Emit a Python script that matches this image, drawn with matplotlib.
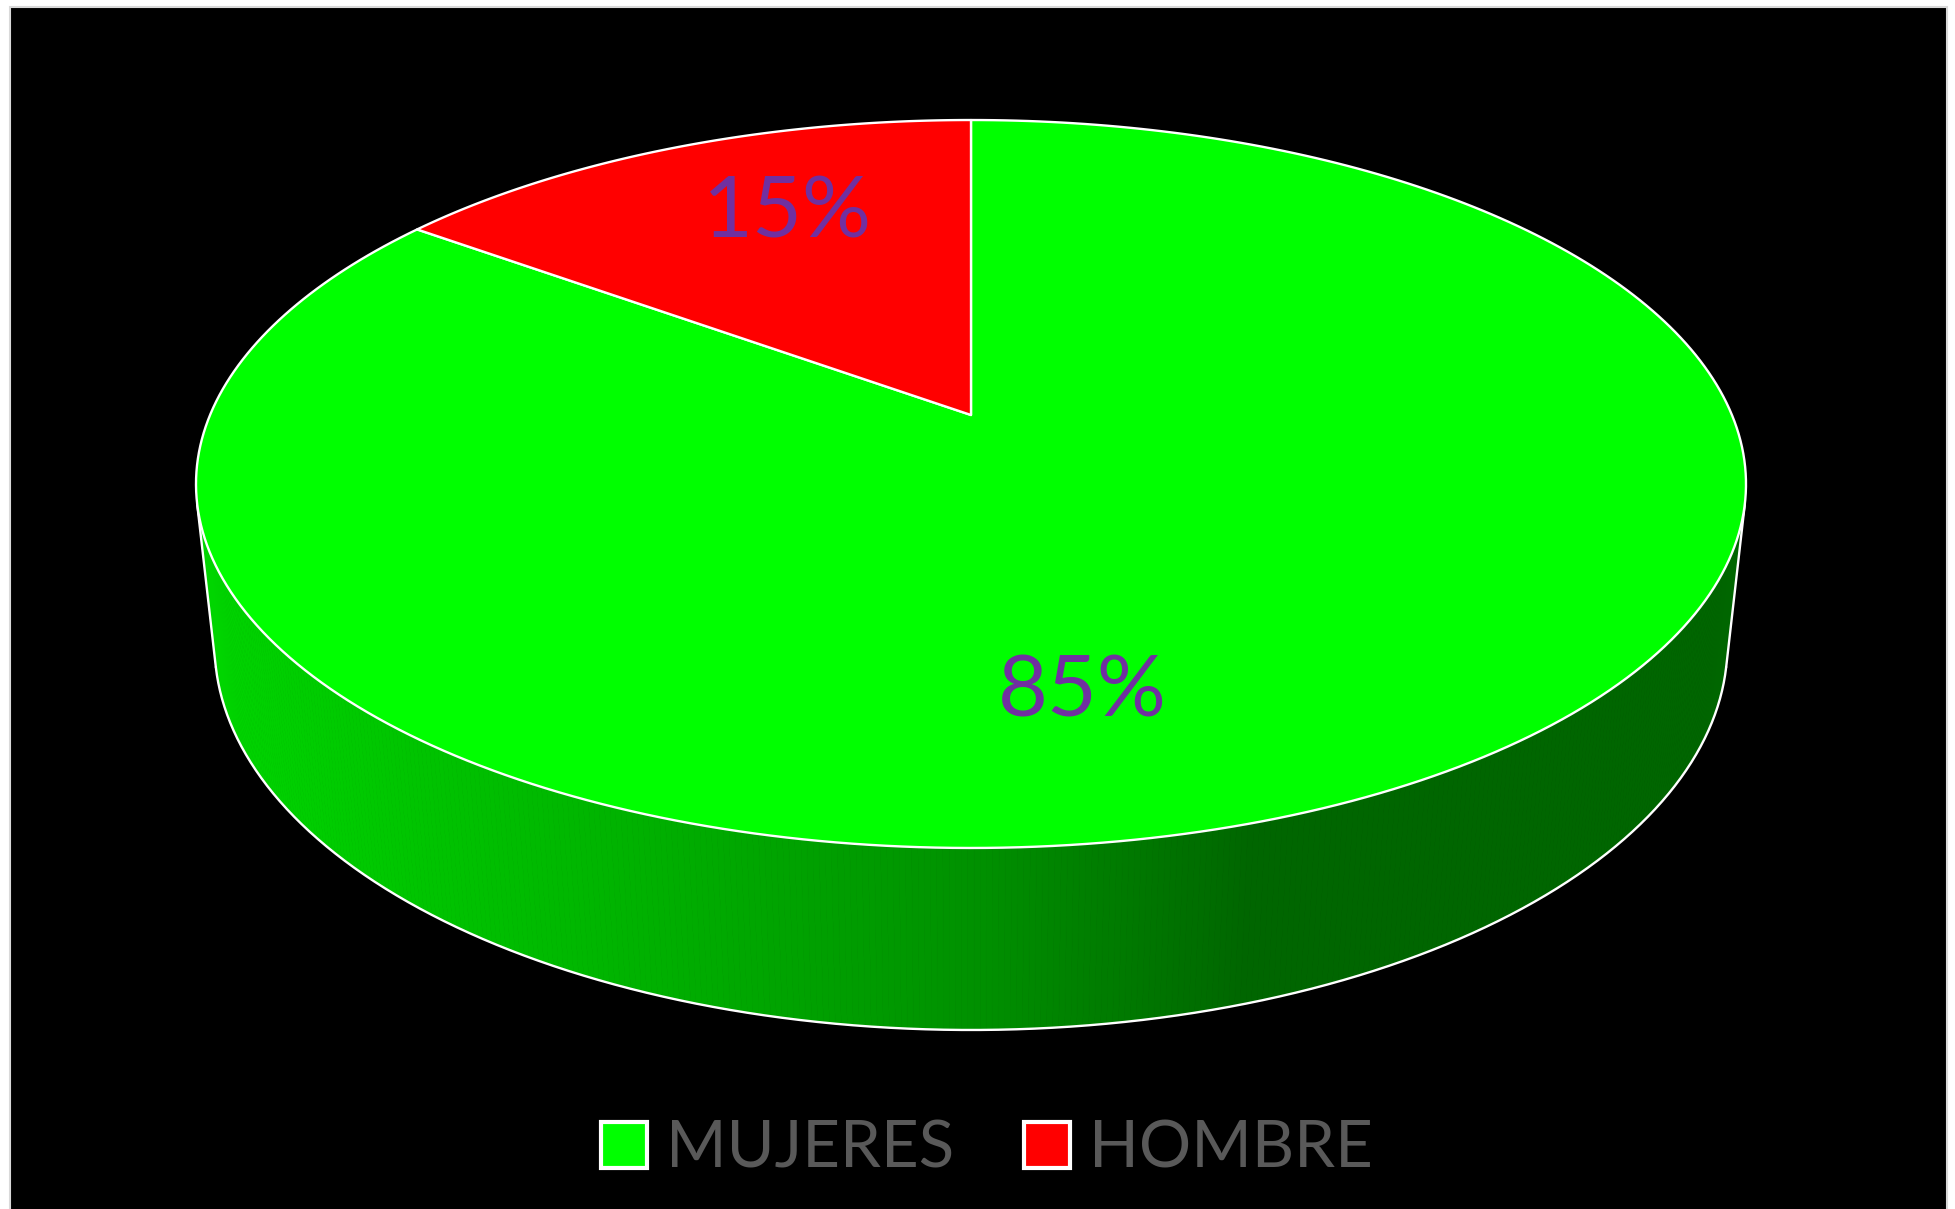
import matplotlib
matplotlib.use("Agg")
import matplotlib.pyplot as plt
import numpy as np
from matplotlib.patches import Polygon, Rectangle, Patch

labels = ["MUJERES", "HOMBRE"]
values = [85, 15]
colors = ["#00FF00", "#FF0000"]
label_shift = [-16.5, -4.3]   # degrees, to match excel's label placement

W, H = 1955, 1209

# 3d view of the pie
elev = np.radians(27.46)
dist = 4.681
scale = 3562
cx, cy = 971, 415
thick = 0.24


def project(X, Y, Z):
    s, c = np.sin(elev), np.cos(elev)
    depth = dist + Y * c - Z * s
    px = cx + scale * X / depth
    py = cy - scale * (Y * s + Z * c) / depth
    return px, py


def shade(color, px):
    f = np.interp(px, [200, 600, 980, 1250], [0.84, 0.71, 0.565, 0.40])
    rgb = np.array(matplotlib.colors.to_rgb(color))
    return tuple(rgb * f)


fig = plt.figure(figsize=(W / 100, H / 100), dpi=100, facecolor="white")
ax = fig.add_axes([0, 0, 1, 1])
ax.set_xlim(0, W)
ax.set_ylim(H, 0)
ax.axis("off")

ax.add_patch(Rectangle((10, 7), 1937, 1210, facecolor="black",
                       edgecolor="#D9D9D9", lw=1.5, zorder=0))

# slice angles, excel starts at 12 o'clock and goes clockwise
frac = np.array(values) / sum(values)
ends = 90 - 360 * np.cumsum(frac)
starts = np.r_[90, ends[:-1]]


def slice_of(t_deg):
    t = (90 - t_deg) % 360
    cum = np.cumsum(frac) * 360
    return int(np.searchsorted(cum, t))


# side of the cylinder (front part only)
lim = np.arcsin(1 / (dist * np.cos(elev)))
t = np.linspace(np.pi + lim, 2 * np.pi - lim, 400)
for i in range(len(t) - 1):
    a, b = t[i], t[i + 1]
    xs = [np.cos(a), np.cos(b), np.cos(b), np.cos(a)]
    ys = [np.sin(a), np.sin(b), np.sin(b), np.sin(a)]
    zs = [0, 0, -thick, -thick]
    px, py = project(np.array(xs), np.array(ys), np.array(zs))
    col = shade(colors[slice_of(np.degrees((a + b) / 2))], px.mean())
    ax.add_patch(Polygon(np.c_[px, py], closed=True, facecolor=col,
                         edgecolor=col, lw=0.6, zorder=1))

# side outline
bx, by = project(np.cos(t), np.sin(t), -thick * np.ones_like(t))
lx, ly = project(np.cos(t[[0, 0]]), np.sin(t[[0, 0]]), np.array([0, -thick]))
rx, ry = project(np.cos(t[[-1, -1]]), np.sin(t[[-1, -1]]), np.array([0, -thick]))
for x_, y_ in [(bx, by), (lx, ly), (rx, ry)]:
    ax.plot(x_, y_, color="white", lw=1.7, zorder=2, solid_capstyle="round")

# top wedges
for v, a0, a1, col in zip(values, starts, ends, colors):
    ang = np.radians(np.linspace(a0, a1, 300))
    X = np.r_[0, np.cos(ang)]
    Y = np.r_[0, np.sin(ang)]
    px, py = project(X, Y, np.zeros_like(X))
    ax.add_patch(Polygon(np.c_[px, py], closed=True, facecolor=col,
                         edgecolor="white", lw=1.7, joinstyle="round", zorder=3))

# data labels
for v, a0, a1, sh in zip(values, starts, ends, label_shift):
    mid = np.radians((a0 + a1) / 2 + sh)
    px, py = project(0.7 * np.cos(mid), 0.7 * np.sin(mid), 0.0)
    ax.text(px, py, f"{v}%", color="#7030A0", fontsize=62, family="Lato",
            ha="center", va="center", zorder=4)

handles = [Patch(facecolor=c, edgecolor="white", linewidth=3) for c in colors]
ax.legend(handles, labels, loc="center", bbox_to_anchor=(987 / W, 1 - 1149 / H),
          bbox_transform=fig.transFigure, ncol=2, frameon=False,
          prop={"family": "Lato", "size": 47}, labelcolor="#595959",
          handlelength=0.70, handleheight=0.70, handletextpad=0.29,
          columnspacing=1.07)

fig.savefig("out.png", dpi=100, facecolor="white")
